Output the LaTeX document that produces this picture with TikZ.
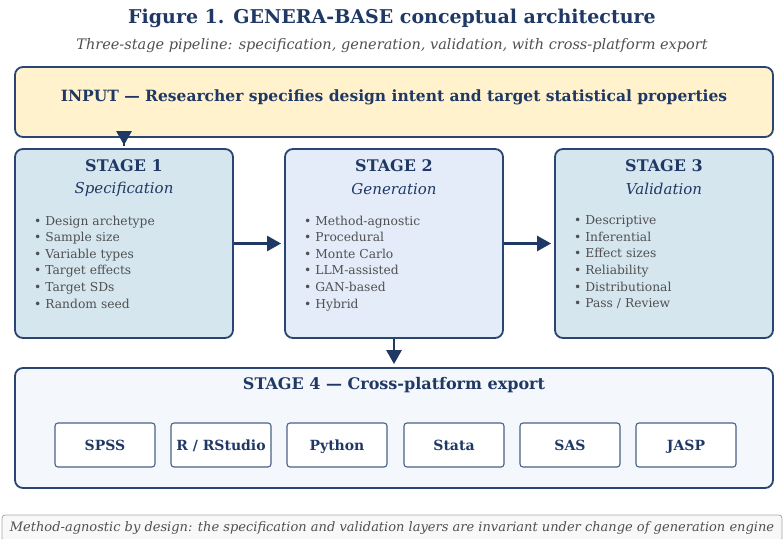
\documentclass[tikz,border=0pt]{standalone}
\usepackage{fontspec}
\setmainfont{DejaVu Serif}
\usetikzlibrary{arrows.meta}
\definecolor{navy}{HTML}{1F3864}
\definecolor{edgeblue}{HTML}{2A4571}
\definecolor{tooledge}{HTML}{4A6188}
\definecolor{bodygrey}{HTML}{505050}
\definecolor{inputfill}{HTML}{FFF2CC}
\definecolor{specfill}{HTML}{D5E6EF}
\definecolor{genfill}{HTML}{E3ECF8}
\definecolor{exportfill}{HTML}{F4F7FC}
\definecolor{notefill}{HTML}{F8F8F8}

\begin{document}
\begin{tikzpicture}[x=1pt, y=-1pt,
	panel/.style={draw=edgeblue, line width=1.8pt, rounded corners=8pt, inner sep=0pt},
	stagebox/.style={panel, minimum width=218pt, minimum height=189pt},
	stagehead/.style={text=navy, font=\fontsize{16}{19}\selectfont\bfseries, inner sep=0pt},
	stagesub/.style={text=navy, font=\fontsize{15}{18}\selectfont\itshape, inner sep=0pt},
	bullets/.style={anchor=north west, align=left, text=bodygrey, inner sep=0pt, font=\fontsize{12.3}{16.6}\selectfont},
	tool/.style={draw=tooledge, line width=1.1pt, rounded corners=3pt, fill=white, minimum width=100pt, minimum height=44pt, inner sep=0pt, text height=10.2pt, text depth=0pt, text=navy, font=\fontsize{14}{16}\selectfont\bfseries},
	flow/.style={draw=navy, line width=2.6pt, -{Triangle[length=14pt, width=15pt]}}]
		\useasboundingbox (0,0) rectangle (784,538);
		\node[text=navy, font=\fontsize{19}{22}\selectfont\bfseries, inner sep=0pt] at (392,18) (title) {Figure 1. GENERA-BASE conceptual architecture};
		\node[text=bodygrey, font=\fontsize{14.5}{17}\selectfont\itshape, inner sep=0pt] at (392,46) (subtitle) {Three-stage pipeline: specification, generation, validation, with cross-platform export};

		\node[panel, fill=inputfill, minimum width=758pt, minimum height=70pt] at (394,102) (input) {};
		\node[text=navy, font=\fontsize{15.5}{18}\selectfont\bfseries, inner sep=0pt] at (394,97) (inputtext) {INPUT — Researcher specifies design intent and target statistical properties};

		\node[stagebox, fill=specfill] at (124,243.5) (stage1) {};
		\node[stagebox, fill=genfill] at (394,243.5) (stage2) {};
		\node[stagebox, fill=specfill] at (664,243.5) (stage3) {};

		\node[stagehead] at (124,166) (head1) {STAGE 1};
		\node[stagesub] at (124,189) (sub1) {Specification};
		\node[bullets] at (34,215.5) (list1) {• Design archetype\\• Sample size\\• Variable types\\• Target effects\\• Target SDs\\• Random seed};

		\node[stagehead] at (394,166) (head2) {STAGE 2};
		\node[stagesub] at (394,189) (sub2) {Generation};
		\node[bullets] at (304,215.5) (list2) {• Method-agnostic\\• Procedural\\• Monte Carlo\\• LLM-assisted\\• GAN-based\\• Hybrid};

		\node[stagehead] at (664,166) (head3) {STAGE 3};
		\node[stagesub] at (664,189) (sub3) {Validation};
		\node[bullets] at (574,215.5) (list3) {• Descriptive\\• Inferential\\• Effect sizes\\• Reliability\\• Distributional\\• Pass / Review};

		\node[panel, fill=exportfill, minimum width=758pt, minimum height=120pt] at (394,428) (stage4) {};
		\node[text=navy, font=\fontsize{16}{19}\selectfont\bfseries, inner sep=0pt] at (394,385) (head4) {STAGE 4 — Cross-platform export};

		\node[tool] at (105,445) (spss) {SPSS};
		\node[tool] at (221,445) (rstudio) {R / RStudio};
		\node[tool] at (337,445) (python) {Python};
		\node[tool] at (454,445) (stata) {Stata};
		\node[tool] at (570,445) (sas) {SAS};
		\node[tool] at (686,445) (jasp) {JASP};

		\node[draw=black!35, fill=notefill, line width=0.8pt, rounded corners=3pt, minimum width=780pt, minimum height=26pt, inner sep=0pt, text=bodygrey, font=\fontsize{13}{15}\selectfont\itshape] at (392,528) (note) {\raisebox{2pt}{Method-agnostic by design: the specification and validation layers are invariant under change of generation engine}};

		\draw[flow, shorten <=-8pt, shorten >=3pt] (input.south -| stage1.north) -- (stage1.north);
		\draw[flow, shorten >=3pt] (stage1.east) -- (stage2.west);
		\draw[flow, shorten >=3pt] (stage2.east) -- (stage3.west);
		\draw[flow, shorten >=3pt] (stage2.south) -- (stage4.north);
	\end{tikzpicture}
\end{document}
